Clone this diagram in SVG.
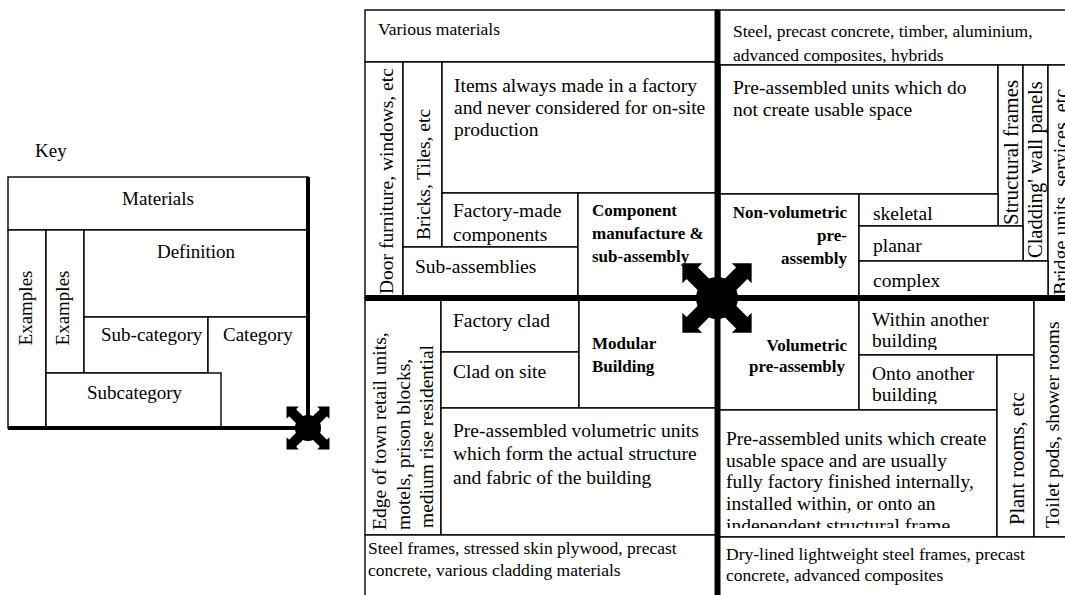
<svg xmlns="http://www.w3.org/2000/svg" xmlns:xlink="http://www.w3.org/1999/xlink" width="1065" height="595" viewBox="0 0 1065 595">
  <style>
    .c { fill: #fff; stroke: #000; stroke-width: 1.4; }
    .thick { stroke: #000; stroke-linecap: butt; fill: none; }
    text { font-family: "Liberation Serif", "Times New Roman", serif; fill: #000; }
    .t { font-size: 19.5px; }
    .k { font-size: 19px; }
    .m { font-size: 17.5px; }
    .b { font-size: 17px; font-weight: bold; }
    .end { text-anchor: end; }
    .mid { text-anchor: middle; }
  </style>
  <defs>
    <!-- four-way diagonal "assembly" marker -->
    <g id="mover" fill="#000">
      <circle cx="0" cy="0" r="21"/>
      <polygon points="0,-8 35,-8 35,-14 49,0 35,14 35,8 0,8" transform="rotate(-45)"/>
      <polygon points="0,-8 35,-8 35,-14 49,0 35,14 35,8 0,8" transform="rotate(45)"/>
      <polygon points="0,-8 35,-8 35,-14 49,0 35,14 35,8 0,8" transform="rotate(135)"/>
      <polygon points="0,-8 35,-8 35,-14 49,0 35,14 35,8 0,8" transform="rotate(-135)"/>
    </g>
    <clipPath id="clipSteel"><rect x="720" y="10" width="350" height="53"/></clipPath>
    <clipPath id="clipWithin"><rect x="859" y="298" width="175" height="52"/></clipPath>
    <clipPath id="clipOnto"><rect x="859" y="355" width="138" height="49"/></clipPath>
    <clipPath id="clipCreate"><rect x="720" y="410" width="277" height="118"/></clipPath>
  </defs>

  <!-- ===== Key ===== -->
  <g id="key">
    <text class="k" x="35" y="157">Key</text>
    <g id="key-materials">
      <rect class="c" x="8" y="177" width="300" height="53"/>
      <text class="k mid" x="158" y="205">Materials</text>
    </g>
    <g id="key-examples-1">
      <rect class="c" x="8" y="230" width="38" height="198"/>
      <text class="k mid" transform="translate(32,308) rotate(-90)">Examples</text>
    </g>
    <g id="key-examples-2">
      <rect class="c" x="46" y="230" width="38" height="143"/>
      <text class="k mid" transform="translate(69,308) rotate(-90)">Examples</text>
    </g>
    <g id="key-definition">
      <rect class="c" x="84" y="230" width="224" height="87"/>
      <text class="k mid" x="196" y="258">Definition</text>
    </g>
    <g id="key-subcategory-a">
      <rect class="c" x="84" y="317" width="124" height="56"/>
      <text class="k" x="101" y="341">Sub-category</text>
    </g>
    <g id="key-category">
      <rect class="c" x="208" y="317" width="100" height="111"/>
      <text class="k" x="223" y="341">Category</text>
    </g>
    <g id="key-subcategory-b">
      <rect class="c" x="46" y="373" width="175" height="55"/>
      <text class="k" x="87" y="399">Subcategory</text>
    </g>
    <line class="thick" x1="308" y1="177" x2="308" y2="430" stroke-width="4"/>
    <line class="thick" x1="8" y1="428" x2="308" y2="428" stroke-width="4"/>
    <use xlink:href="#mover" transform="translate(308,428) scale(0.62)"/>
  </g>

  <!-- ===== Component manufacture & sub-assembly ===== -->
  <g id="component-materials">
    <rect class="c" x="365" y="10" width="352" height="52"/>
    <text class="m" x="378" y="35">Various materials</text>
  </g>
  <g id="component-example-door">
    <rect class="c" x="365" y="62" width="38" height="236"/>
    <text class="t" transform="translate(393,294) rotate(-90)">Door furniture, windows, etc</text>
  </g>
  <g id="component-example-bricks">
    <rect class="c" x="403" y="62" width="39" height="185"/>
    <text class="t" transform="translate(430,240) rotate(-90)">Bricks, Tiles, etc</text>
  </g>
  <g id="component-definition">
    <rect class="c" x="442" y="62" width="275" height="131"/>
    <text class="t" x="454" y="92">Items always made in a factory</text>
    <text class="t" x="454" y="114">and never considered for on-site</text>
    <text class="t" x="454" y="136">production</text>
  </g>
  <g id="component-factory-made">
    <rect class="c" x="442" y="193" width="136" height="54"/>
    <text class="t" x="453" y="217">Factory-made</text>
    <text class="t" x="453" y="241">components</text>
  </g>
  <g id="component-sub-assemblies">
    <rect class="c" x="403" y="247" width="175" height="51"/>
    <text class="t" x="415" y="273">Sub-assemblies</text>
  </g>
  <g id="component-category">
    <rect class="c" x="578" y="193" width="139" height="105"/>
    <text class="b" x="592" y="216">Component</text>
    <text class="b" x="592" y="239">manufacture &amp;</text>
    <text class="b" x="592" y="262">sub-assembly</text>
  </g>

  <!-- ===== Non-volumetric pre-assembly ===== -->
  <g id="nonvol-materials">
    <rect class="c" x="717" y="10" width="360" height="55"/>
    <g clip-path="url(#clipSteel)">
      <text class="m" x="733" y="37">Steel, precast concrete, timber, aluminium,</text>
      <text class="m" x="733" y="61">advanced composites, hybrids</text>
    </g>
  </g>
  <g id="nonvol-definition">
    <rect class="c" x="720" y="65" width="278" height="129"/>
    <text class="t" x="733" y="94">Pre-assembled units which do</text>
    <text class="t" x="733" y="116">not create usable space</text>
  </g>
  <g id="nonvol-example-frames">
    <rect class="c" x="998" y="65" width="25" height="161"/>
    <text class="t" style="font-size:21px" transform="translate(1018,225) rotate(-90)">Structural frames</text>
  </g>
  <g id="nonvol-example-panels">
    <rect class="c" x="1023" y="65" width="25" height="196"/>
    <text class="t" style="font-size:20.5px" transform="translate(1042,258) rotate(-90)">Cladding' wall panels</text>
  </g>
  <g id="nonvol-example-bridge">
    <rect class="c" x="1048" y="65" width="30" height="233"/>
    <text class="t" style="font-size:20px" transform="translate(1068,295) rotate(-90)">Bridge units, services, etc</text>
  </g>
  <g id="nonvol-category">
    <rect class="c" x="720" y="194" width="139" height="104"/>
    <text class="b end" x="847" y="218">Non-volumetric</text>
    <text class="b end" x="847" y="241">pre-</text>
    <text class="b end" x="847" y="264">assembly</text>
  </g>
  <g id="nonvol-skeletal">
    <rect class="c" x="859" y="194" width="139" height="32"/>
    <text class="t" x="873" y="220">skeletal</text>
  </g>
  <g id="nonvol-planar">
    <rect class="c" x="859" y="226" width="164" height="35"/>
    <text class="t" x="873" y="252">planar</text>
  </g>
  <g id="nonvol-complex">
    <rect class="c" x="859" y="261" width="189" height="37"/>
    <text class="t" x="873" y="287">complex</text>
  </g>

  <!-- ===== Modular building ===== -->
  <g id="modular-example">
    <rect class="c" x="365" y="298" width="76" height="237"/>
    <text class="t" transform="translate(386,530) rotate(-90)">Edge of town retail units,</text>
    <text class="t" transform="translate(410,530) rotate(-90)">motels, prison blocks,</text>
    <text class="t" transform="translate(433,528) rotate(-90)">medium rise residential</text>
  </g>
  <g id="modular-factory-clad">
    <rect class="c" x="441" y="298" width="138" height="54"/>
    <text class="t" x="453" y="327">Factory clad</text>
  </g>
  <g id="modular-clad-on-site">
    <rect class="c" x="441" y="352" width="138" height="56"/>
    <text class="t" x="453" y="378">Clad on site</text>
  </g>
  <g id="modular-category">
    <rect class="c" x="579" y="298" width="138" height="110"/>
    <text class="b" x="592" y="349">Modular</text>
    <text class="b" x="592" y="372">Building</text>
  </g>
  <g id="modular-definition">
    <rect class="c" x="441" y="408" width="276" height="127"/>
    <text class="t" x="453" y="437">Pre-assembled volumetric units</text>
    <text class="t" x="453" y="460">which form the actual structure</text>
    <text class="t" x="453" y="484">and fabric of the building</text>
  </g>
  <g id="modular-materials">
    <rect class="c" x="365" y="535" width="352" height="70"/>
    <text class="m" x="368" y="554">Steel frames, stressed skin plywood, precast</text>
    <text class="m" x="368" y="576">concrete, various cladding materials</text>
  </g>

  <!-- ===== Volumetric pre-assembly ===== -->
  <g id="vol-category">
    <rect class="c" x="717" y="298" width="142" height="112"/>
    <text class="b end" x="847" y="351">Volumetric</text>
    <text class="b end" x="845" y="372">pre-assembly</text>
  </g>
  <g id="vol-within">
    <rect class="c" x="859" y="298" width="175" height="57"/>
    <g clip-path="url(#clipWithin)">
      <text class="t" x="872" y="326">Within another</text>
      <text class="t" x="872" y="347">building</text>
    </g>
  </g>
  <g id="vol-onto">
    <rect class="c" x="859" y="355" width="138" height="55"/>
    <g clip-path="url(#clipOnto)">
      <text class="t" x="872" y="380">Onto another</text>
      <text class="t" x="872" y="401">building</text>
    </g>
  </g>
  <g id="vol-definition">
    <rect class="c" x="717" y="410" width="280" height="127"/>
    <g clip-path="url(#clipCreate)">
      <text class="t" x="726" y="445">Pre-assembled units which create</text>
      <text class="t" x="726" y="467">usable space and are usually</text>
      <text class="t" x="726" y="488">fully factory finished internally,</text>
      <text class="t" x="726" y="510">installed within, or onto an</text>
      <text class="t" x="726" y="532">independent structural frame</text>
    </g>
  </g>
  <g id="vol-example-plant">
    <rect class="c" x="997" y="355" width="37" height="182"/>
    <text class="t" style="font-size:20.5px" transform="translate(1024,525) rotate(-90)">Plant rooms, etc</text>
  </g>
  <g id="vol-example-pods">
    <rect class="c" x="1034" y="298" width="40" height="239"/>
    <text class="t" transform="translate(1059,528) rotate(-90)">Toilet pods, shower rooms</text>
  </g>
  <g id="vol-materials">
    <rect class="c" x="717" y="537" width="360" height="70"/>
    <text class="m" x="726" y="560">Dry-lined lightweight steel frames, precast</text>
    <text class="m" x="726" y="581">concrete, advanced composites</text>
  </g>

  <!-- ===== Dividing axes and centre marker ===== -->
  <g id="connectors">
    <line class="thick" x1="717.5" y1="10" x2="717.5" y2="595" stroke-width="6"/>
    <line class="thick" x1="365" y1="298" x2="1065" y2="298" stroke-width="6"/>
  </g>
  <use id="centre-marker" xlink:href="#mover" transform="translate(717,298)"/>
</svg>
